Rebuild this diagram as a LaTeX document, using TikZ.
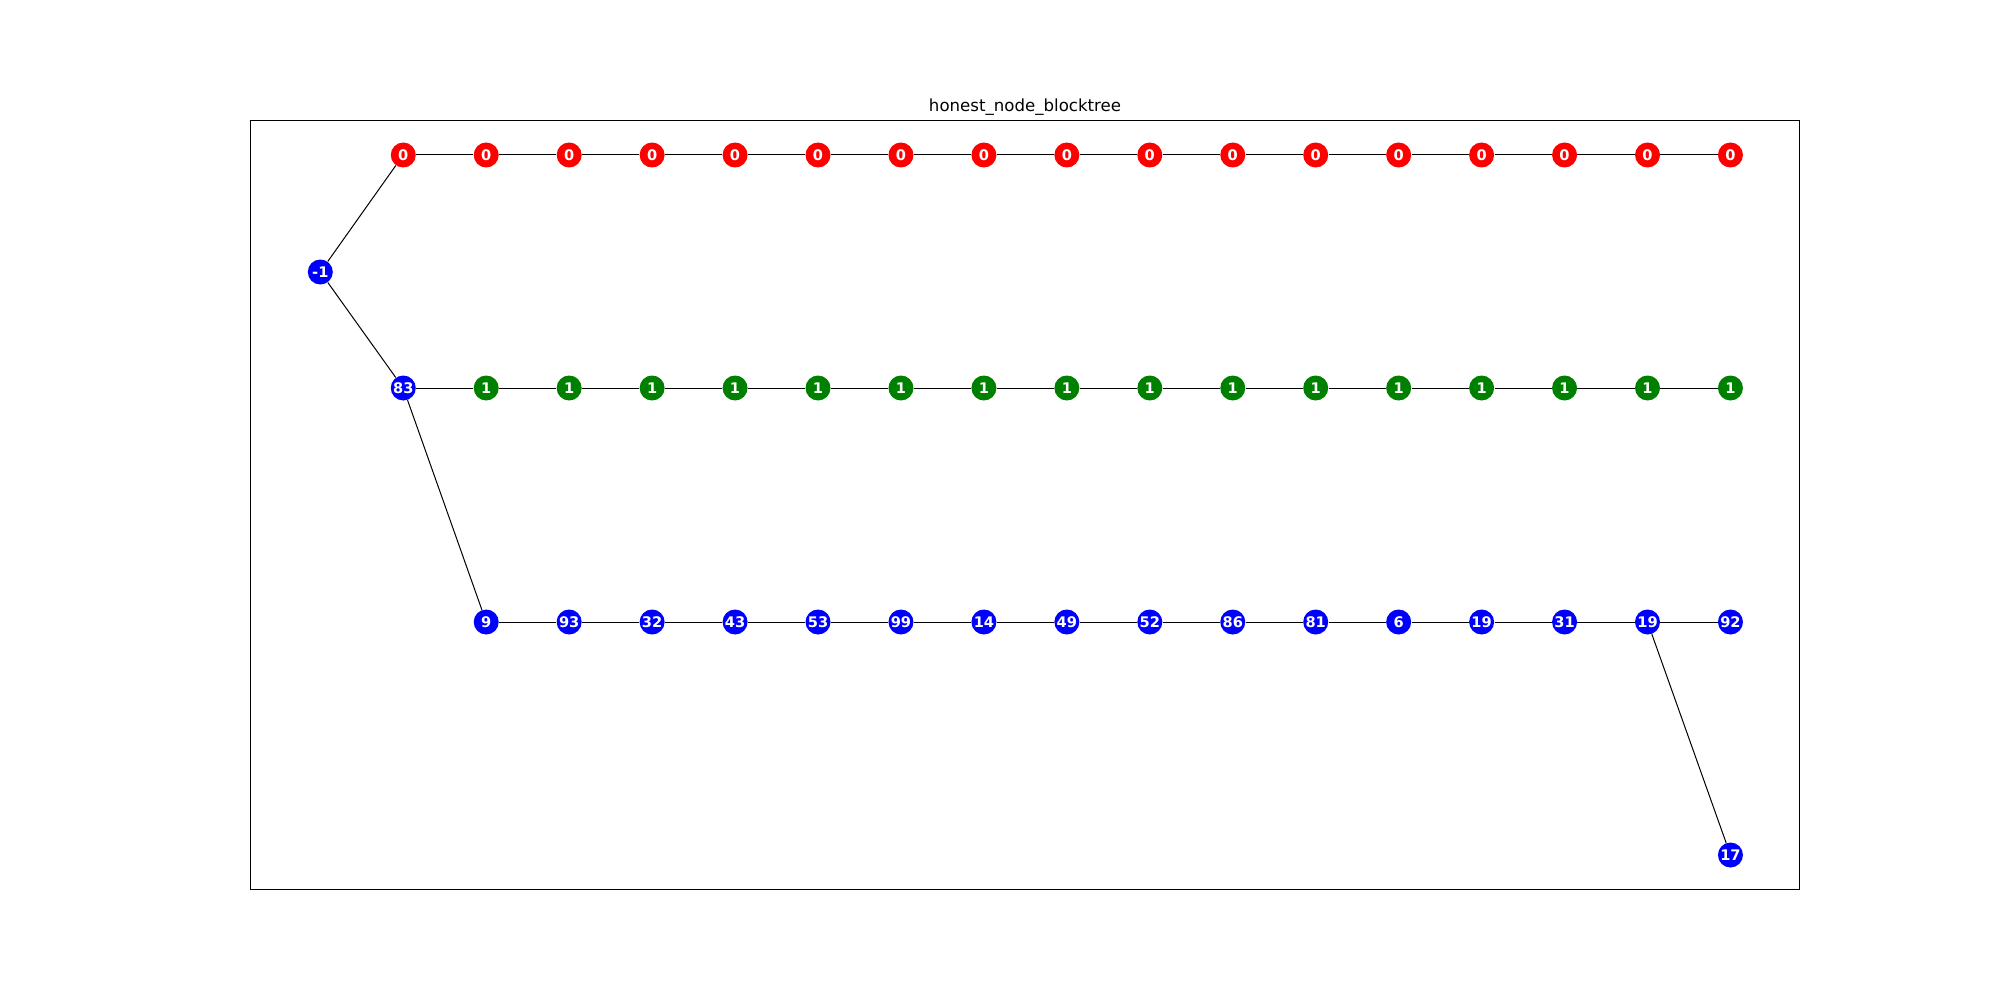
\documentclass[tikz,border=0pt]{standalone}
\usepackage{fontspec}
\setmainfont{DejaVu Sans}
\tikzset{
  block/.style={circle, minimum size=12.5pt, inner sep=0pt, text=white,
    font=\fontsize{7.3}{8}\selectfont\bfseries},
  honest/.style={block, fill=blue},
  forkred/.style={block, fill=red},
  forkgreen/.style={block, fill={rgb,255:red,0;green,128;blue,0}},
  link/.style={line width=0.5pt, black}
}
\begin{document}
\begin{tikzpicture}[x=0.5pt,y=-0.5pt]
    \useasboundingbox (0,0) rectangle (2000,1000);

    % Frame and title
    \draw[line width=0.55pt] (250.3,120.3) rectangle (1799.5,889.5);
    \node[anchor=base, font=\fontsize{8.3}{10}\selectfont] (title) at (1025,112) {honest\_node\_blocktree};

    % Root
    \node[honest] (root) at (320.3,272) {-1};

    % Top chain (red)
    \foreach \i in {1,...,17}
        \node[forkred] (r\i) at ({320.3+82.95*\i},155) {0};

    % Middle chain (green)
    \node[honest] (g1) at ({320.3+82.95},388) {83};
    \foreach \i in {2,...,17}
        \node[forkgreen] (g\i) at ({320.3+82.95*\i},388) {1};

    % Bottom chain (blue)
    \foreach \lab [count=\i from 2] in {9,93,32,43,53,99,14,49,52,86,81,6,19,31,19,92}
        \node[honest] (b\i) at ({320.3+82.95*\i},622) {\lab};
    \node[honest] (tip) at ({320.3+82.95*17},855) {17};

    % Edges
    \draw[link] (root) -- (r1);
    \draw[link] (root) -- (g1);
    \draw[link] (g1) -- (b2);
    \draw[link] (b16) -- (tip);
    \foreach \i in {1,...,16} {
        \pgfmathtruncatemacro{\j}{\i+1}
        \draw[link] (r\i) -- (r\j);
        \draw[link] (g\i) -- (g\j);
    }
    \foreach \i in {2,...,16} {
        \pgfmathtruncatemacro{\j}{\i+1}
        \draw[link] (b\i) -- (b\j);
    }

\end{tikzpicture}
\end{document}
